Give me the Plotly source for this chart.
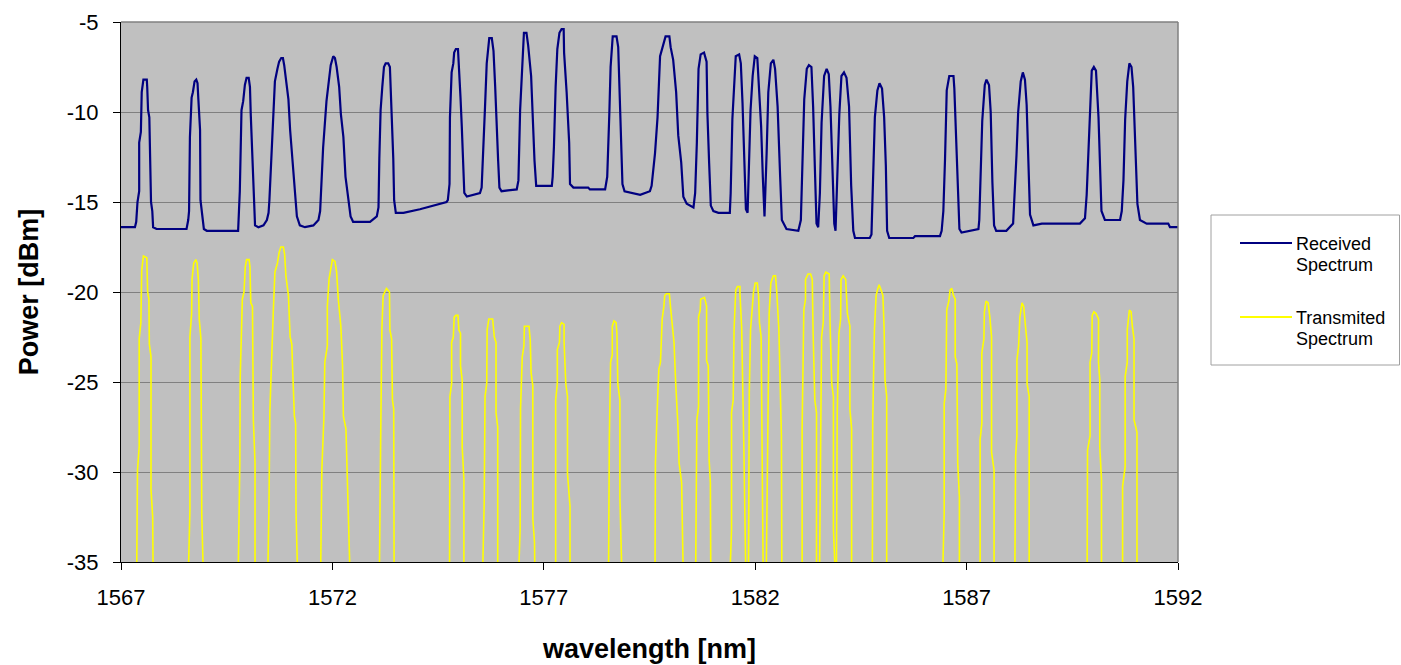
import plotly.graph_objects as go

# ---------------- data ----------------
rx_wl = [
    1567.00, 1567.33, 1567.36, 1567.39, 1567.43, 1567.43, 1567.47, 1567.49, 1567.53, 1567.61,
    1567.62, 1567.64, 1567.67, 1567.69, 1567.71, 1567.74, 1567.76, 1567.84, 1568.55, 1568.59,
    1568.61, 1568.63, 1568.67, 1568.70, 1568.74, 1568.78, 1568.81, 1568.83, 1568.87, 1568.88,
    1568.93, 1568.96, 1569.03, 1569.77, 1569.79, 1569.81, 1569.85, 1569.89, 1569.93, 1569.97,
    1570.02, 1570.05, 1570.07, 1570.11, 1570.14, 1570.17, 1570.25, 1570.37, 1570.45, 1570.49,
    1570.51, 1570.56, 1570.60, 1570.64, 1570.70, 1570.74, 1570.79, 1570.83, 1570.86, 1570.90,
    1570.96, 1571.00, 1571.04, 1571.08, 1571.12, 1571.16, 1571.23, 1571.35, 1571.55, 1571.67,
    1571.71, 1571.75, 1571.78, 1571.86, 1571.92, 1571.96, 1572.02, 1572.06, 1572.10, 1572.16,
    1572.20, 1572.26, 1572.31, 1572.38, 1572.43, 1572.49, 1572.89, 1573.05, 1573.09, 1573.11,
    1573.14, 1573.18, 1573.22, 1573.26, 1573.32, 1573.36, 1573.40, 1573.44, 1573.46, 1573.50,
    1573.68, 1574.07, 1574.70, 1574.73, 1574.77, 1574.78, 1574.82, 1574.86, 1574.88, 1574.92,
    1574.97, 1574.99, 1575.03, 1575.06, 1575.08, 1575.12, 1575.18, 1575.49, 1575.53, 1575.57,
    1575.61, 1575.65, 1575.69, 1575.71, 1575.77, 1575.81, 1575.85, 1575.89, 1575.92, 1575.95,
    1576.00, 1576.36, 1576.40, 1576.44, 1576.49, 1576.53, 1576.59, 1576.63, 1576.70, 1576.74,
    1576.78, 1576.82, 1576.87, 1577.19, 1577.21, 1577.24, 1577.28, 1577.32, 1577.37, 1577.42,
    1577.47, 1577.48, 1577.54, 1577.60, 1577.62, 1577.70, 1578.05, 1578.09, 1578.45, 1578.50,
    1578.55, 1578.58, 1578.63, 1578.72, 1578.76, 1578.79, 1578.82, 1578.86, 1578.91, 1579.28,
    1579.51, 1579.55, 1579.63, 1579.69, 1579.75, 1579.82, 1579.88, 1579.97, 1580.00, 1580.06,
    1580.13, 1580.18, 1580.25, 1580.30, 1580.38, 1580.54, 1580.58, 1580.62, 1580.66, 1580.71,
    1580.79, 1580.85, 1580.87, 1580.91, 1580.95, 1581.01, 1581.13, 1581.40, 1581.42, 1581.46,
    1581.50, 1581.54, 1581.62, 1581.66, 1581.70, 1581.74, 1581.78, 1581.82, 1581.85, 1581.89,
    1581.94, 1581.99, 1582.05, 1582.09, 1582.14, 1582.18, 1582.22, 1582.27, 1582.31, 1582.37,
    1582.43, 1582.47, 1582.53, 1582.59, 1582.63, 1582.74, 1583.02, 1583.08, 1583.12, 1583.16,
    1583.22, 1583.27, 1583.33, 1583.37, 1583.41, 1583.45, 1583.49, 1583.53, 1583.57, 1583.63,
    1583.69, 1583.74, 1583.78, 1583.82, 1583.87, 1583.90, 1583.94, 1583.99, 1584.04, 1584.10,
    1584.16, 1584.22, 1584.27, 1584.32, 1584.36, 1584.71, 1584.75, 1584.79, 1584.83, 1584.89,
    1584.94, 1585.00, 1585.05, 1585.09, 1585.12, 1585.17, 1585.74, 1585.78, 1586.37, 1586.41,
    1586.45, 1586.49, 1586.53, 1586.59, 1586.69, 1586.71, 1586.75, 1586.79, 1586.83, 1586.88,
    1587.08, 1587.28, 1587.30, 1587.33, 1587.37, 1587.43, 1587.47, 1587.53, 1587.57, 1587.61,
    1587.65, 1587.70, 1587.94, 1588.10, 1588.14, 1588.18, 1588.22, 1588.28, 1588.33, 1588.38,
    1588.42, 1588.46, 1588.50, 1588.58, 1588.78, 1589.68, 1589.80, 1589.84, 1589.88, 1589.92,
    1589.96, 1590.01, 1590.06, 1590.12, 1590.15, 1590.19, 1590.27, 1590.63, 1590.67, 1590.71,
    1590.75, 1590.80, 1590.85, 1590.90, 1590.94, 1591.00, 1591.04, 1591.10, 1591.26, 1591.77,
    1591.81, 1592.00,
]
rx_pw = [
    -16.4, -16.4, -16.1, -15.0, -14.4, -11.7, -11.1, -8.9, -8.2, -8.2,
    -8.6, -9.9, -10.3, -12.3, -15.0, -15.5, -16.4, -16.5, -16.5, -16.0,
    -15.5, -11.4, -9.2, -8.9, -8.3, -8.2, -8.4, -9.3, -11.0, -14.9,
    -16.0, -16.5, -16.6, -16.6, -15.5, -14.4, -9.9, -9.4, -8.5, -8.1,
    -8.1, -8.6, -10.2, -12.6, -14.5, -16.3, -16.4, -16.3, -16.0, -15.6,
    -14.9, -12.2, -10.3, -8.3, -7.6, -7.2, -7.0, -7.0, -7.4, -8.2,
    -9.3, -11.0, -12.3, -13.6, -14.9, -15.8, -16.3, -16.4, -16.3, -16.0,
    -15.5, -13.8, -12.0, -9.4, -8.2, -7.4, -6.9, -7.0, -7.5, -8.6,
    -10.1, -11.4, -13.6, -15.1, -15.8, -16.1, -16.1, -15.8, -15.3, -12.6,
    -9.9, -8.6, -7.5, -7.3, -7.3, -7.5, -9.7, -12.6, -14.9, -15.6,
    -15.6, -15.4, -15.0, -14.9, -14.0, -10.3, -7.8, -7.3, -6.7, -6.5,
    -6.5, -7.3, -9.2, -10.8, -12.3, -14.5, -14.7, -14.5, -14.2, -12.3,
    -9.7, -7.3, -6.3, -5.9, -5.9, -6.6, -8.6, -10.5, -12.7, -14.2,
    -14.4, -14.3, -13.8, -9.9, -7.1, -5.6, -5.6, -6.3, -8.0, -11.0,
    -12.7, -14.1, -14.1, -14.1, -13.6, -11.9, -8.6, -6.5, -5.6, -5.4,
    -5.4, -6.7, -8.9, -11.7, -14.0, -14.2, -14.2, -14.3, -14.3, -13.6,
    -10.1, -7.5, -5.8, -5.8, -6.4, -8.9, -11.7, -14.0, -14.4, -14.6,
    -14.4, -14.1, -12.3, -10.3, -6.9, -6.3, -5.8, -5.8, -6.4, -7.1,
    -8.9, -11.3, -12.8, -14.7, -15.1, -15.3, -14.5, -11.7, -7.6, -6.8,
    -6.7, -7.2, -10.1, -12.8, -15.2, -15.5, -15.6, -15.6, -14.5, -10.4,
    -8.6, -6.9, -6.8, -7.3, -9.5, -13.2, -15.4, -15.6, -13.2, -9.9,
    -8.0, -6.9, -7.0, -8.6, -10.8, -13.6, -15.8, -12.3, -8.9, -7.3,
    -7.1, -7.6, -9.7, -13.6, -16.0, -16.5, -16.6, -16.0, -12.7, -9.3,
    -7.6, -7.4, -7.5, -9.7, -13.0, -16.2, -16.4, -14.5, -10.6, -8.0,
    -7.6, -7.9, -9.7, -12.7, -16.2, -16.6, -13.2, -10.1, -8.0, -7.8,
    -8.1, -9.7, -14.1, -16.6, -17.0, -17.0, -16.8, -13.2, -10.3, -8.8,
    -8.4, -8.7, -10.3, -13.0, -16.6, -17.0, -17.0, -16.9, -16.9, -16.6,
    -15.5, -12.6, -8.8, -8.0, -8.0, -8.7, -11.3, -14.6, -16.5, -16.7,
    -16.6, -16.5, -16.0, -13.2, -10.5, -8.5, -8.2, -8.5, -10.0, -13.9,
    -16.3, -16.6, -16.6, -16.2, -14.6, -12.4, -10.0, -8.3, -7.8, -8.2,
    -9.6, -13.3, -15.7, -16.3, -16.2, -16.2, -15.9, -14.6, -12.4, -9.8,
    -7.7, -7.5, -7.7, -10.3, -13.1, -15.5, -16.0, -16.0, -15.5, -13.8,
    -10.4, -8.3, -7.3, -7.5, -8.6, -12.4, -15.1, -16.0, -16.2, -16.2,
    -16.4, -16.4,
]

# transmitted channels: one list per channel (wavelength nm / power dBm)
tx_wl = [
    [1567.37, 1567.39, 1567.43, 1567.43, 1567.47, 1567.49, 1567.53, 1567.61, 1567.63, 1567.66, 1567.67, 1567.71, 1567.71, 1567.75, 1567.76],
    [1568.59, 1568.63, 1568.63, 1568.67, 1568.68, 1568.72, 1568.77, 1568.80, 1568.83, 1568.85, 1568.89, 1568.91, 1568.95],
    [1569.77, 1569.81, 1569.82, 1569.87, 1569.91, 1569.94, 1569.97, 1570.03, 1570.05, 1570.07, 1570.11, 1570.13, 1570.17, 1570.17],
    [1570.47, 1570.50, 1570.52, 1570.56, 1570.60, 1570.64, 1570.70, 1570.74, 1570.78, 1570.84, 1570.87, 1570.90, 1570.96, 1571.00, 1571.04, 1571.06, 1571.10, 1571.13, 1571.14, 1571.18],
    [1571.72, 1571.75, 1571.80, 1571.82, 1571.88, 1571.88, 1571.92, 1571.96, 1572.00, 1572.06, 1572.10, 1572.14, 1572.20, 1572.24, 1572.26, 1572.32, 1572.35, 1572.38, 1572.42],
    [1573.11, 1573.12, 1573.14, 1573.17, 1573.20, 1573.26, 1573.28, 1573.35, 1573.36, 1573.40, 1573.42, 1573.45, 1573.46],
    [1574.77, 1574.78, 1574.82, 1574.82, 1574.86, 1574.88, 1574.92, 1574.97, 1574.99, 1575.03, 1575.03, 1575.07, 1575.07, 1575.11, 1575.11],
    [1575.55, 1575.59, 1575.61, 1575.65, 1575.66, 1575.70, 1575.79, 1575.83, 1575.87, 1575.87, 1575.91, 1575.91],
    [1576.40, 1576.44, 1576.45, 1576.49, 1576.53, 1576.54, 1576.65, 1576.68, 1576.70, 1576.74, 1576.74, 1576.78, 1576.79],
    [1577.28, 1577.28, 1577.32, 1577.32, 1577.37, 1577.38, 1577.42, 1577.48, 1577.48, 1577.52, 1577.56, 1577.56, 1577.62, 1577.62],
    [1578.53, 1578.55, 1578.58, 1578.62, 1578.62, 1578.66, 1578.71, 1578.73, 1578.75, 1578.80, 1578.80, 1578.85],
    [1579.63, 1579.64, 1579.68, 1579.72, 1579.76, 1579.80, 1579.84, 1579.86, 1579.90, 1579.97, 1580.00, 1580.04, 1580.08, 1580.12, 1580.17, 1580.20, 1580.26, 1580.30],
    [1580.59, 1580.62, 1580.66, 1580.66, 1580.70, 1580.71, 1580.80, 1580.85, 1580.85, 1580.89, 1580.91, 1580.94, 1580.95],
    [1581.40, 1581.44, 1581.44, 1581.48, 1581.50, 1581.54, 1581.58, 1581.64, 1581.64, 1581.68, 1581.73, 1581.78],
    [1581.84, 1581.86, 1581.89, 1581.93, 1581.96, 1582.00, 1582.05, 1582.08, 1582.10, 1582.14, 1582.15, 1582.19],
    [1582.26, 1582.29, 1582.31, 1582.33, 1582.37, 1582.43, 1582.48, 1582.51, 1582.56, 1582.59, 1582.62, 1582.63],
    [1583.11, 1583.11, 1583.15, 1583.19, 1583.19, 1583.25, 1583.31, 1583.35, 1583.37, 1583.41, 1583.45, 1583.45],
    [1583.52, 1583.54, 1583.57, 1583.61, 1583.63, 1583.67, 1583.75, 1583.77, 1583.81, 1583.85, 1583.85, 1583.90],
    [1583.92, 1583.94, 1583.98, 1584.02, 1584.03, 1584.08, 1584.14, 1584.18, 1584.24, 1584.24, 1584.28, 1584.28],
    [1584.77, 1584.78, 1584.82, 1584.86, 1584.89, 1584.93, 1584.98, 1585.02, 1585.05, 1585.07, 1585.11, 1585.11],
    [1586.43, 1586.47, 1586.47, 1586.51, 1586.53, 1586.58, 1586.61, 1586.65, 1586.69, 1586.73, 1586.73, 1586.77, 1586.79, 1586.83, 1586.83],
    [1587.32, 1587.32, 1587.36, 1587.36, 1587.41, 1587.42, 1587.46, 1587.51, 1587.55, 1587.59, 1587.59, 1587.65, 1587.65],
    [1588.14, 1588.16, 1588.19, 1588.19, 1588.23, 1588.26, 1588.31, 1588.35, 1588.40, 1588.43, 1588.43, 1588.48, 1588.48],
    [1589.85, 1589.86, 1589.92, 1589.92, 1589.96, 1589.97, 1590.01, 1590.06, 1590.12, 1590.12, 1590.15, 1590.15, 1590.19, 1590.19],
    [1590.69, 1590.69, 1590.75, 1590.75, 1590.80, 1590.80, 1590.85, 1590.89, 1590.92, 1590.96, 1590.96, 1591.03, 1591.03],
]
tx_pw = [
    [-36, -29.9, -28.6, -22.6, -21.7, -18.8, -18.0, -18.1, -20.0, -20.4, -22.9, -23.6, -31.0, -32.5, -36],
    [-36, -32.1, -22.5, -21.2, -19.3, -18.4, -18.2, -18.4, -19.3, -21.5, -22.6, -32.3, -36],
    [-36, -29.5, -24.7, -20.4, -20.0, -18.6, -18.2, -18.2, -18.6, -20.6, -20.8, -27.1, -29.5, -36],
    [-36, -31.9, -26.7, -23.6, -21.2, -18.9, -18.4, -17.8, -17.5, -17.5, -17.9, -19.1, -20.2, -22.5, -22.9, -24.3, -26.9, -27.3, -32.3, -36],
    [-36, -29.9, -26.9, -23.9, -23.0, -20.8, -19.3, -18.6, -18.2, -18.3, -18.9, -20.4, -21.9, -24.1, -26.9, -27.6, -30.4, -32.3, -36],
    [-36, -30.4, -28.6, -22.1, -20.2, -19.9, -19.8, -20.0, -22.1, -22.6, -26.0, -26.5, -36],
    [-36, -25.8, -25.1, -22.8, -22.5, -21.4, -21.3, -21.3, -22.1, -22.3, -24.1, -24.9, -28.6, -30.4, -36],
    [-36, -31.7, -25.8, -25.1, -22.1, -21.5, -21.5, -22.5, -22.8, -26.7, -27.5, -36],
    [-36, -33.2, -26.5, -23.6, -23.0, -21.9, -21.9, -22.7, -24.5, -25.2, -32.6, -33.9, -36],
    [-36, -26.0, -25.1, -23.2, -22.8, -21.9, -21.7, -21.8, -22.8, -25.1, -25.8, -30.1, -31.9, -36],
    [-36, -28.2, -23.9, -23.5, -21.9, -21.6, -21.7, -22.3, -25.1, -26.0, -31.4, -36],
    [-36, -29.5, -26.7, -24.3, -23.9, -21.5, -20.8, -20.2, -20.1, -20.1, -20.9, -21.7, -22.8, -25.1, -27.3, -29.5, -30.6, -36],
    [-36, -27.1, -26.4, -21.4, -21.0, -20.4, -20.3, -20.8, -23.8, -24.1, -29.3, -30.6, -36],
    [-36, -33.2, -26.7, -26.0, -22.1, -19.9, -19.7, -19.7, -20.1, -22.0, -28.4, -36],
    [-36, -25.6, -22.1, -21.0, -20.0, -19.5, -19.5, -20.2, -21.7, -22.5, -25.8, -36],
    [-36, -28.0, -23.9, -21.2, -19.5, -19.1, -19.1, -20.0, -22.1, -25.6, -28.0, -36],
    [-36, -27.6, -21.0, -20.4, -19.3, -19.0, -19.0, -19.3, -22.3, -26.0, -26.7, -36],
    [-36, -29.5, -22.5, -21.7, -19.1, -18.9, -19.0, -21.7, -25.1, -25.8, -33.2, -36],
    [-36, -26.7, -22.3, -21.5, -19.3, -19.1, -19.3, -21.2, -21.9, -26.5, -27.6, -36],
    [-36, -27.1, -22.1, -20.2, -19.9, -19.6, -19.9, -20.2, -22.1, -24.9, -25.8, -36],
    [-36, -32.3, -26.2, -25.4, -21.0, -20.5, -19.9, -19.8, -20.2, -20.4, -23.6, -24.0, -29.5, -31.4, -36],
    [-36, -28.2, -27.3, -23.4, -22.6, -21.1, -20.5, -20.6, -21.4, -22.5, -28.9, -29.9, -36],
    [-36, -29.1, -28.0, -23.8, -23.0, -21.4, -20.6, -20.8, -22.1, -22.8, -25.1, -25.8, -36],
    [-36, -28.8, -28.0, -23.9, -23.4, -21.3, -21.1, -21.2, -21.5, -23.9, -24.9, -28.6, -30.4, -36],
    [-36, -30.8, -29.7, -24.7, -23.9, -22.1, -21.0, -21.1, -21.9, -22.6, -27.1, -27.8, -36],
]

x_ticks = [1567, 1572, 1577, 1582, 1587, 1592]
y_ticks = [-5, -10, -15, -20, -25, -30, -35]
y_tick_text = ["-5", "-10", "-15", "-20", "-25", "-30", "-35"]
series_names = ["Received<br>Spectrum", "Transmited<br>Spectrum"]
legend_lines = [("Received", "Spectrum"), ("Transmited", "Spectrum")]

# flatten transmitted channels, separated by gaps
tx_x, tx_y = [], []
for wl, pw in zip(tx_wl, tx_pw):
    tx_x += wl + [None]
    tx_y += pw + [None]

RX_COLOR = "#000080"
TX_COLOR = "#FFFF00"
FONT = "Liberation Sans, Arial, sans-serif"

fig = go.Figure()
fig.add_trace(go.Scatter(x=tx_x, y=tx_y, mode="lines", name=series_names[1],
                         line=dict(color=TX_COLOR, width=1.6), connectgaps=False,
                         showlegend=False))
fig.add_trace(go.Scatter(x=rx_wl, y=rx_pw, mode="lines", name=series_names[0],
                         line=dict(color=RX_COLOR, width=2.2), showlegend=False))

L, R, T, B = 121, 1178, 22, 562
W, H = 1401, 665

def px_x(p):
    return (p - L) / (R - L)

def px_y(p):
    return (B - p) / (B - T)

shapes = [
    # plot frame top and right (grey)
    dict(type="line", xref="paper", yref="paper", x0=0, x1=1, y0=1, y1=1,
         line=dict(color="#808080", width=1.5)),
    dict(type="line", xref="paper", yref="paper", x0=1, x1=1, y0=0, y1=1,
         line=dict(color="#808080", width=1.5)),
    # legend box
    dict(type="rect", xref="paper", yref="paper", x0=px_x(1211), x1=px_x(1399.5),
         y0=px_y(365), y1=px_y(215), line=dict(color="#A0A0A0", width=1),
         fillcolor="white"),
    dict(type="line", xref="paper", yref="paper", x0=px_x(1240), x1=px_x(1292),
         y0=px_y(243), y1=px_y(243), line=dict(color=RX_COLOR, width=2)),
    dict(type="line", xref="paper", yref="paper", x0=px_x(1240), x1=px_x(1292),
         y0=px_y(317), y1=px_y(317), line=dict(color=TX_COLOR, width=2)),
]

annotations = []
for (l1, l2), ytop in zip(legend_lines, [244, 318]):
    annotations.append(dict(text=l1, xref="paper", yref="paper", x=px_x(1294), y=px_y(ytop),
                            xanchor="left", yanchor="middle", showarrow=False,
                            font=dict(family=FONT, size=18, color="black")))
    annotations.append(dict(text=l2, xref="paper", yref="paper", x=px_x(1294), y=px_y(ytop + 21),
                            xanchor="left", yanchor="middle", showarrow=False,
                            font=dict(family=FONT, size=18, color="black")))

fig.update_layout(
    width=W, height=H,
    margin=dict(l=L, r=W - R, t=T, b=H - B, pad=0),
    paper_bgcolor="white",
    plot_bgcolor="#C0C0C0",
    font=dict(family=FONT, color="black"),
    shapes=shapes,
    annotations=annotations,
    showlegend=False,
    xaxis=dict(
        range=[1567, 1592], tickvals=x_ticks, ticktext=[str(v) for v in x_ticks],
        showgrid=False, zeroline=False, showline=True, linecolor="black", linewidth=1,
        ticks="outside", ticklen=7, tickcolor="black", tickwidth=1,
        tickfont=dict(family=FONT, size=22, color="black"),
        ticklabelstandoff=9,
        title=dict(text="<b>wavelength [nm]</b>", font=dict(family=FONT, size=27, color="black"),
                   standoff=29),
        automargin=False,
    ),
    yaxis=dict(
        range=[-35, -5], tickvals=y_ticks, ticktext=y_tick_text,
        showgrid=True, gridcolor="#808080", gridwidth=1, zeroline=False,
        showline=True, linecolor="black", linewidth=1,
        ticks="outside", ticklen=7, tickcolor="black", tickwidth=1,
        tickfont=dict(family=FONT, size=22, color="black"),
        ticklabelstandoff=10,
        title=dict(text="<b>Power [dBm]</b>", font=dict(family=FONT, size=27, color="black"),
                   standoff=20),
        automargin=False,
    ),
)

fig.write_html(
    "out.html",
    config={"displayModeBar": False},
    post_script="document.body.style.margin='0';document.body.style.overflow='hidden';",
)
